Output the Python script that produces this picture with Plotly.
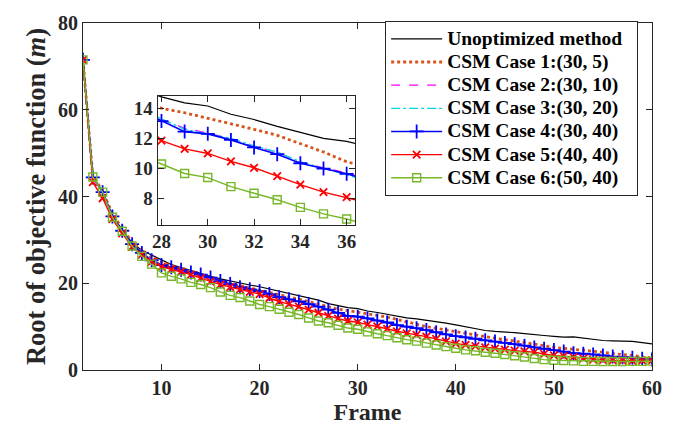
import plotly.graph_objects as go

# Frame indices
frames = list(range(2, 61))

# Root of objective function per frame, one list per method
unoptimized = [71.5, 44.6, 41.2, 35.6, 32.3, 29.3, 27.6, 26.5, 25.4, 24.3,
               23.6, 22.9, 22.2, 21.6, 21.0, 20.5, 20.0, 19.6, 19.2, 18.7,
               18.2, 17.6, 17.1, 16.6, 16.1, 15.3, 14.75, 14.36, 14.15, 13.6,
               13.25, 12.8, 12.4, 12.0, 11.8, 11.5, 11.1, 10.8, 10.4, 10.0,
               9.6, 9.1, 8.9, 8.8, 8.6, 8.4, 8.1, 7.95, 7.75, 7.6,
               7.65, 7.4, 7.0, 6.8, 6.7, 6.65, 6.6, 6.3, 6.0]
case1 = [71.5, 44.8, 41.3, 36.0, 32.6, 29.5, 27.4, 26.0, 24.9, 24.0,
         23.3, 22.6, 22.0, 21.3, 20.6, 20.0, 19.4, 18.9, 18.4, 17.9,
         17.4, 16.9, 16.3, 15.8, 15.2, 14.6, 14.0, 13.7, 13.35, 12.95,
         12.6, 12.2, 11.65, 11.1, 10.45, 10.0, 9.6, 9.2, 8.8, 8.4,
         8.0, 7.6, 7.3, 7.0, 6.7, 6.4, 6.0, 5.6, 5.2, 5.0,
         4.8, 4.6, 4.3, 4.1, 3.8, 3.6, 3.35, 3.0, 2.6]
case2 = [71.5, 44.4, 41.0, 35.5, 32.0, 28.9, 26.9, 25.1, 23.9, 23.3,
         22.8, 22.3, 21.8, 21.3, 20.6, 19.9, 19.2, 18.7, 18.3, 17.6,
         16.9, 16.4, 15.9, 15.3, 14.7, 14.0, 13.25, 12.67, 12.35, 11.97,
         11.45, 11.1, 10.4, 10.05, 9.7, 9.25, 8.75, 8.25, 7.85, 7.55,
         7.25, 6.9, 6.6, 6.3, 6.0, 5.65, 5.25, 4.95, 4.65, 4.3,
         3.92, 3.8, 3.65, 3.4, 3.15, 3.0, 2.88, 2.65, 2.45]
case3 = [71.5, 44.5, 41.0, 35.4, 32.1, 29.0, 27.0, 25.3, 24.2, 23.7,
         23.1, 22.5, 22.0, 21.3, 20.5, 19.8, 19.2, 18.7, 18.3, 17.6,
         16.9, 16.4, 15.9, 15.3, 14.7, 14.0, 13.3, 12.6, 12.3, 12.0,
         11.5, 11.1, 10.45, 10.05, 9.65, 9.2, 8.7, 8.2, 7.8, 7.5,
         7.2, 6.85, 6.55, 6.25, 5.96, 5.6, 5.2, 4.9, 4.6, 4.25,
         3.87, 3.75, 3.6, 3.35, 3.1, 2.95, 2.83, 2.6, 2.4]
case4 = [71.5, 44.4, 41.0, 35.4, 32.1, 29.0, 27.0, 25.3, 24.2, 23.7,
         23.1, 22.5, 22.0, 21.3, 20.5, 19.8, 19.1, 18.6, 18.2, 17.5,
         16.8, 16.3, 15.8, 15.2, 14.6, 13.9, 13.15, 12.45, 12.3, 11.9,
         11.4, 10.95, 10.35, 10.0, 9.65, 9.2, 8.7, 8.2, 7.8, 7.5,
         7.2, 6.85, 6.55, 6.25, 5.96, 5.6, 5.2, 4.9, 4.6, 4.25,
         3.87, 3.75, 3.6, 3.35, 3.1, 2.95, 2.83, 2.6, 2.4]
case5 = [71.5, 43.3, 39.6, 34.8, 31.5, 28.4, 26.6, 25.0, 23.8, 23.2,
         22.7, 22.0, 21.2, 20.4, 19.7, 19.1, 18.6, 18.0, 17.5, 16.6,
         15.8, 15.2, 14.6, 13.9, 13.2, 12.5, 11.85, 11.3, 11.0, 10.47,
         10.05, 9.5, 8.93, 8.43, 8.1, 7.7, 7.2, 6.6, 6.1, 5.8,
         5.5, 5.2, 4.95, 4.7, 4.47, 4.3, 4.1, 3.7, 3.35, 3.2,
         2.98, 2.7, 2.4, 2.3, 2.2, 2.15, 2.1, 2.15, 2.2]
case6 = [71.5, 44.5, 41.0, 35.2, 32.0, 28.6, 26.2, 24.4, 22.4, 21.6,
         21.0, 20.2, 19.7, 19.0, 18.0, 17.2, 16.7, 15.9, 15.1, 14.6,
         14.0, 13.3, 12.8, 12.0, 11.3, 10.9, 10.3, 9.67, 9.4, 8.8,
         8.36, 7.93, 7.42, 6.99, 6.65, 6.2, 5.75, 5.4, 5.0, 4.65,
         4.45, 4.1, 3.87, 3.57, 3.3, 3.0, 2.65, 2.4, 2.25, 2.2,
         2.1, 2.0, 2.0, 1.95, 1.95, 1.95, 2.0, 2.0, 2.05]

names = ["Unoptimized method", "CSM Case 1:(30, 5)", "CSM Case 2:(30, 10)",
         "CSM Case 3:(30, 20)", "CSM Case 4:(30, 40)", "CSM Case 5:(40, 40)",
         "CSM Case 6:(50, 40)"]
series = [unoptimized, case1, case2, case3, case4, case5, case6]

# Tick positions and labels
main_xticks = [10, 20, 30, 40, 50, 60]
main_yticks = [0, 20, 40, 60, 80]
inset_xticks = [28, 30, 32, 34, 36]
inset_yticks = [8, 10, 12, 14]

styles = [
    dict(mode="lines", line=dict(color="#000000", width=1.2)),
    dict(mode="lines", line=dict(color="#D95319", width=2.8, dash="dot")),
    dict(mode="lines", line=dict(color="#FF00FF", width=1.3, dash="dash")),
    dict(mode="lines", line=dict(color="#00D8E8", width=1.3, dash="dashdot")),
    dict(mode="lines+markers", line=dict(color="#0000FF", width=1.6),
         marker=dict(symbol="cross-thin-open", size=10,
                     line=dict(color="#0000FF", width=1.8))),
    dict(mode="lines+markers", line=dict(color="#FF0000", width=1.4),
         marker=dict(symbol="x-thin-open", size=7.5,
                     line=dict(color="#FF0000", width=1.8))),
    dict(mode="lines+markers", line=dict(color="#77B82A", width=1.4),
         marker=dict(symbol="square-open", size=8,
                     line=dict(color="#77B82A", width=1.4),
                     color="#77B82A")),
]

FONT = "Liberation Serif"
INK = "#262626"

fig = go.Figure()

# Main axes (legend entries carry a little right padding)
for name, ys, st in zip(names, series, styles):
    label = '<span style="font-size:19.5px"><b>%s</b>&nbsp;&nbsp;</span>' % name
    fig.add_trace(go.Scatter(x=frames, y=ys, name=label, xaxis="x", yaxis="y", **st))

# Zoomed-in inset axes
for name, ys, st in zip(names, series, styles):
    fig.add_trace(go.Scatter(x=frames, y=ys, name=name, xaxis="x2", yaxis="y2",
                             showlegend=False, **st))


def axis_style(vals, size):
    return dict(
        showline=True, linecolor=INK, linewidth=1, mirror="ticks",
        ticks="inside", ticklen=6, tickcolor=INK, showgrid=False,
        zeroline=False, tickvals=vals, ticktext=["<b>%d</b>" % v for v in vals],
        tickfont=dict(family=FONT, size=size, color=INK),
    )


fig.update_layout(
    width=689, height=432,
    margin=dict(l=83, r=37, t=12, b=62),
    paper_bgcolor="white", plot_bgcolor="white",
    font=dict(family=FONT, color=INK),
    xaxis=dict(domain=[0, 1], range=[2, 60],
               title=dict(text="<b>Frame</b>", font=dict(family=FONT, size=24), standoff=2),
               **axis_style(main_xticks, 20)),
    yaxis=dict(domain=[0, 1], range=[0, 80],
               title=dict(text="<b>Root of objective function (<i>m</i>)</b>",
                          font=dict(family=FONT, size=26.5), standoff=4),
               **axis_style(main_yticks, 20)),
    xaxis2=dict(domain=[0.131, 0.478], range=[27.83, 36.36], anchor="y2",
                **axis_style(inset_xticks, 19)),
    yaxis2=dict(domain=[0.419, 0.79], range=[6.28, 14.82], anchor="x2",
                **axis_style(inset_yticks, 19)),
    legend=dict(x=0.531, y=1.005, xanchor="left", yanchor="top",
                bgcolor="white", bordercolor=INK, borderwidth=1,
                font=dict(family=FONT, size=15.5, color="#000000"),
                tracegroupgap=0, itemwidth=51),
    showlegend=True,
)

fig.write_html("out.html")
